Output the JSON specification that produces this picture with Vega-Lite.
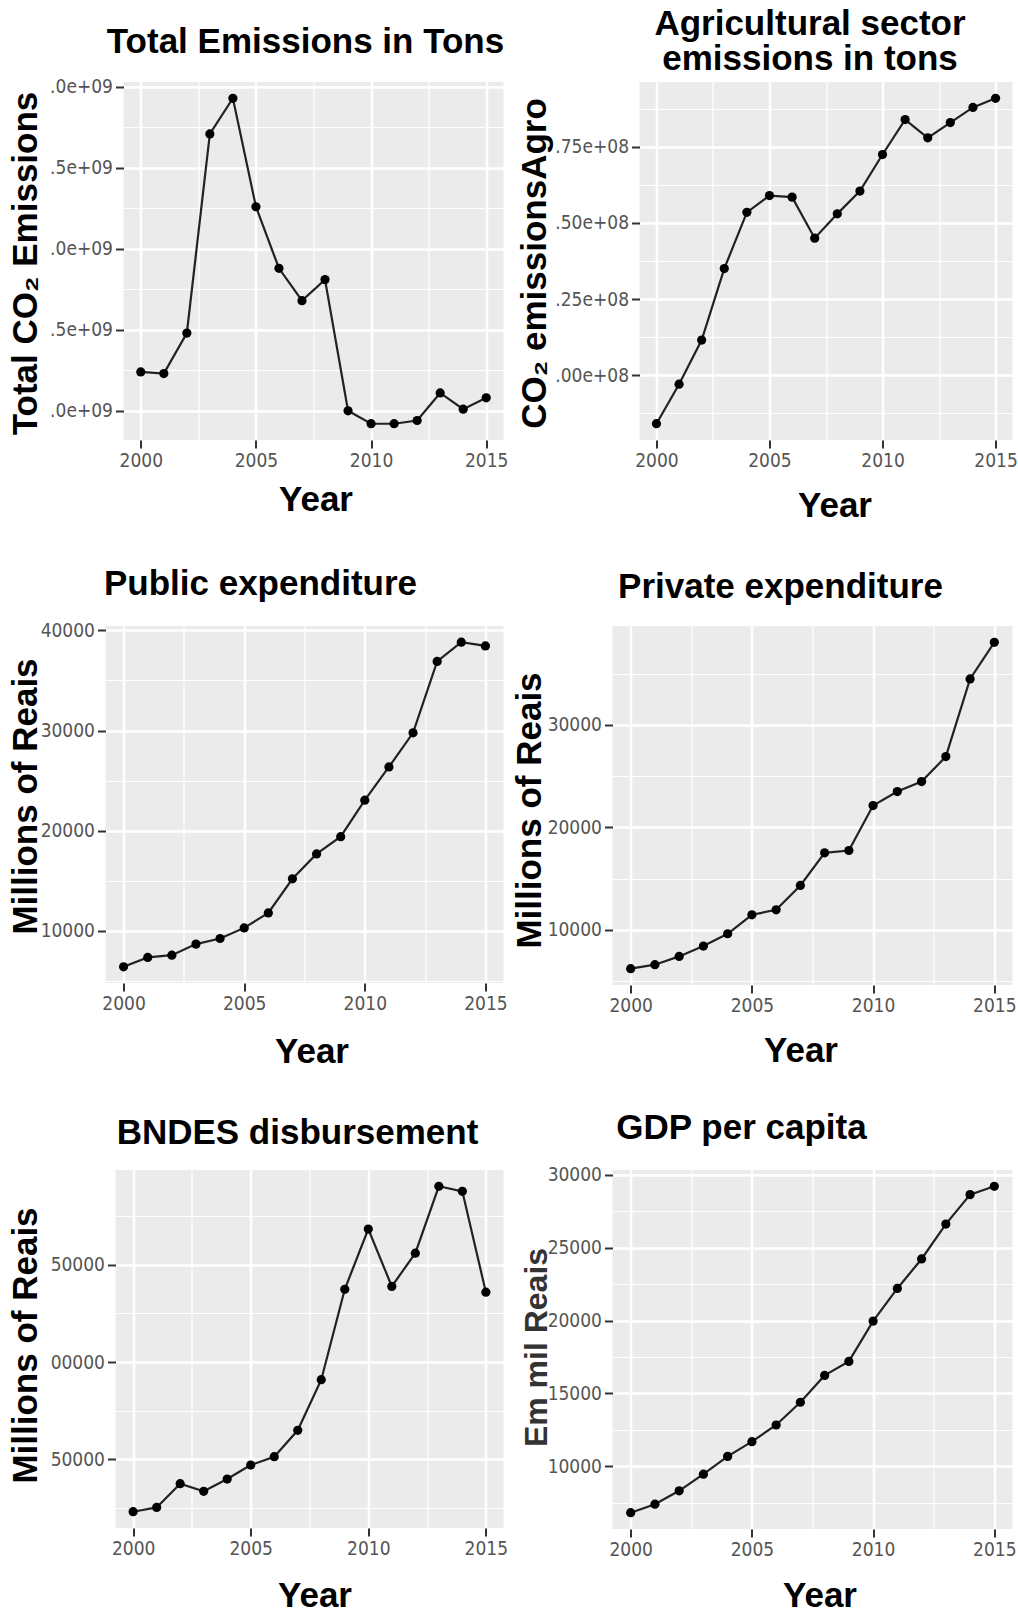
{
  "$schema": "https://vega.github.io/schema/vega-lite/v6.json",
  "autosize": {"type": "pad"},
  "padding": {"left": 7.5, "top": 7, "right": 0, "bottom": 0},
  "background": "#FFFFFF",
  "config": {
    "view": {"stroke": null},
    "axis": {
      "domain": false,
      "tickColor": "#333333",
      "tickWidth": 2,
      "tickSize": 8,
      "labelFont": "DejaVu Sans Condensed, Roboto Condensed, Noto Sans Condensed, Liberation Sans",
      "labelFontSize": 19,
      "labelColor": "#555555",
      "labelPadding": 3,
      "labelFlush": false,
      "labelOverlap": false,
      "gridColor": "#FFFFFF",
      "titleFont": "Liberation Sans",
      "titleFontWeight": "bold",
      "titleFontSize": 35,
      "titleColor": "#000000",
      "titleAlign": "center",
      "titleBaseline": "middle"
    },
    "title": {"font": "Liberation Sans", "fontWeight": "bold", "fontSize": 35, "color": "#000000", "anchor": "middle", "frame": "group", "baseline": "alphabetic"},
    "line": {"color": "#222222", "strokeWidth": 2.2},
    "point": {"color": "#000000", "filled": true, "size": 85, "opacity": 1}
  },
  "spacing": 44,
  "vconcat": [
    {
      "bounds": "flush",
      "spacing": 0,
      "hconcat": [
        {"width": 18, "height": 10, "data": {"values": []}, "mark": "point"},
        {
          "bounds": "flush",
          "spacing": 136,
          "hconcat": [
            {
              "width": 380, "height": 358,
              "view": {"fill": "#EBEBEB", "stroke": null},
              "title": {"text": "Total Emissions in Tons", "dx": -8, "offset": 18},
              "data": {"values": [
                {"year": 2000, "value": 2240000000}, {"year": 2001, "value": 2230000000}, {"year": 2002, "value": 2480000000},
                {"year": 2003, "value": 3710000000}, {"year": 2004, "value": 3930000000}, {"year": 2005, "value": 3260000000},
                {"year": 2006, "value": 2880000000}, {"year": 2007, "value": 2680000000}, {"year": 2008, "value": 2810000000},
                {"year": 2009, "value": 2000000000}, {"year": 2010, "value": 1920000000}, {"year": 2011, "value": 1920000000},
                {"year": 2012, "value": 1940000000}, {"year": 2013, "value": 2110000000}, {"year": 2014, "value": 2010000000},
                {"year": 2015, "value": 2080000000}
              ]},
              "encoding": {
                "x": {"field": "year", "type": "quantitative", "scale": {"domain": [1999.25, 2015.75], "nice": false, "zero": false},
                  "axis": {"title": "Year", "titleX": 192, "titleY": 59,
                    "values": [2000, 2002.5, 2005, 2007.5, 2010, 2012.5, 2015],
                    "labelExpr": "datum.value % 5 == 0 ? format(datum.value, 'd') : ''",
                    "tickOpacity": {"condition": {"test": "datum.value % 5 == 0", "value": 1}, "value": 0},
                    "gridWidth": {"condition": {"test": "datum.value % 5 == 0", "value": 2.5}, "value": 1.2}}},
                "y": {"field": "value", "type": "quantitative", "scale": {"domain": [1819500000, 4030500000], "nice": false, "zero": false},
                  "axis": {"title": "Total CO₂ Emissions", "titleX": -98, "titleY": 181,
                    "values": [2000000000, 2250000000, 2500000000, 2750000000, 3000000000, 3250000000, 3500000000, 3750000000, 4000000000],
                    "labelExpr": "datum.value % 500000000 == 0 ? '.' + (datum.value % 1000000000 == 0 ? '0' : '5') + 'e+09' : ''",
                    "tickOpacity": {"condition": {"test": "datum.value % 500000000 == 0", "value": 1}, "value": 0},
                    "gridWidth": {"condition": {"test": "datum.value % 500000000 == 0", "value": 2.5}, "value": 1.2}}}
              },
              "layer": [{"mark": "line"}, {"mark": "point"}]
            },
            {
              "width": 373, "height": 358,
              "view": {"fill": "#EBEBEB", "stroke": null},
              "title": {"text": ["Agricultural sector", "emissions in tons"], "dx": -16, "offset": 5, "lineHeight": 35},
              "data": {"values": [
                {"year": 2000, "value": 384000000}, {"year": 2001, "value": 397000000}, {"year": 2002, "value": 411500000},
                {"year": 2003, "value": 435000000}, {"year": 2004, "value": 453500000}, {"year": 2005, "value": 459000000},
                {"year": 2006, "value": 458500000}, {"year": 2007, "value": 445000000}, {"year": 2008, "value": 453000000},
                {"year": 2009, "value": 460500000}, {"year": 2010, "value": 472500000}, {"year": 2011, "value": 484000000},
                {"year": 2012, "value": 478000000}, {"year": 2013, "value": 483000000}, {"year": 2014, "value": 488000000},
                {"year": 2015, "value": 491000000}
              ]},
              "encoding": {
                "x": {"field": "year", "type": "quantitative", "scale": {"domain": [1999.25, 2015.75], "nice": false, "zero": false},
                  "axis": {"title": "Year", "titleX": 195, "titleY": 65,
                    "values": [2000, 2002.5, 2005, 2007.5, 2010, 2012.5, 2015],
                    "labelExpr": "datum.value % 5 == 0 ? format(datum.value, 'd') : ''",
                    "tickOpacity": {"condition": {"test": "datum.value % 5 == 0", "value": 1}, "value": 0},
                    "gridWidth": {"condition": {"test": "datum.value % 5 == 0", "value": 2.5}, "value": 1.2}}},
                "y": {"field": "value", "type": "quantitative", "scale": {"domain": [378650000, 496350000], "nice": false, "zero": false},
                  "axis": {"title": "CO₂ emissionsAgro", "titleX": -105, "titleY": 181,
                    "values": [387500000, 400000000, 412500000, 425000000, 437500000, 450000000, 462500000, 475000000, 487500000],
                    "labelExpr": "datum.value % 25000000 == 0 ? '.' + format((datum.value % 100000000) / 1000000, '02d') + 'e+08' : ''",
                    "tickOpacity": {"condition": {"test": "datum.value % 25000000 == 0", "value": 1}, "value": 0},
                    "gridWidth": {"condition": {"test": "datum.value % 25000000 == 0", "value": 2.5}, "value": 1.2}}}
              },
              "layer": [{"mark": "line"}, {"mark": "point"}]
            }
          ]
        }
      ]
    },
    {
      "spacing": 41,
      "vconcat": [
        {
          "bounds": "flush",
          "spacing": 109,
          "hconcat": [
            {
              "width": 398, "height": 357,
              "view": {"fill": "#EBEBEB", "stroke": null},
              "title": {"text": "Public expenditure", "dx": -44, "offset": 19},
              "data": {"values": [
                {"year": 2000, "value": 6420}, {"year": 2001, "value": 7350}, {"year": 2002, "value": 7580},
                {"year": 2003, "value": 8680}, {"year": 2004, "value": 9240}, {"year": 2005, "value": 10300},
                {"year": 2006, "value": 11790}, {"year": 2007, "value": 15200}, {"year": 2008, "value": 17680},
                {"year": 2009, "value": 19400}, {"year": 2010, "value": 23050}, {"year": 2011, "value": 26360},
                {"year": 2012, "value": 29770}, {"year": 2013, "value": 36890}, {"year": 2014, "value": 38810},
                {"year": 2015, "value": 38440}
              ]},
              "encoding": {
                "x": {"field": "year", "type": "quantitative", "scale": {"domain": [1999.25, 2015.75], "nice": false, "zero": false},
                  "axis": {"title": "Year", "titleX": 206, "titleY": 68,
                    "values": [2000, 2002.5, 2005, 2007.5, 2010, 2012.5, 2015],
                    "labelExpr": "datum.value % 5 == 0 ? format(datum.value, 'd') : ''",
                    "tickOpacity": {"condition": {"test": "datum.value % 5 == 0", "value": 1}, "value": 0},
                    "gridWidth": {"condition": {"test": "datum.value % 5 == 0", "value": 2.5}, "value": 1.2}}},
                "y": {"field": "value", "type": "quantitative", "scale": {"domain": [4800, 40430], "nice": false, "zero": false},
                  "axis": {"title": "Millions of Reais", "titleX": -80, "titleY": 170,
                    "values": [5000, 10000, 15000, 20000, 25000, 30000, 35000, 40000],
                    "labelExpr": "datum.value % 10000 == 0 ? format(datum.value, 'd') : ''",
                    "tickOpacity": {"condition": {"test": "datum.value % 10000 == 0", "value": 1}, "value": 0},
                    "gridWidth": {"condition": {"test": "datum.value % 10000 == 0", "value": 2.5}, "value": 1.2}}}
              },
              "layer": [{"mark": "line"}, {"mark": "point"}]
            },
            {
              "width": 400, "height": 359,
              "view": {"fill": "#EBEBEB", "stroke": null},
              "title": {"text": "Private expenditure", "dx": -32, "offset": 21},
              "data": {"values": [
                {"year": 2000, "value": 6200}, {"year": 2001, "value": 6590}, {"year": 2002, "value": 7400},
                {"year": 2003, "value": 8410}, {"year": 2004, "value": 9610}, {"year": 2005, "value": 11460},
                {"year": 2006, "value": 11950}, {"year": 2007, "value": 14330}, {"year": 2008, "value": 17510},
                {"year": 2009, "value": 17740}, {"year": 2010, "value": 22130}, {"year": 2011, "value": 23500},
                {"year": 2012, "value": 24470}, {"year": 2013, "value": 26910}, {"year": 2014, "value": 34490},
                {"year": 2015, "value": 38070}
              ]},
              "encoding": {
                "x": {"field": "year", "type": "quantitative", "scale": {"domain": [1999.25, 2015.75], "nice": false, "zero": false},
                  "axis": {"title": "Year", "titleX": 188, "titleY": 65,
                    "values": [2000, 2002.5, 2005, 2007.5, 2010, 2012.5, 2015],
                    "labelExpr": "datum.value % 5 == 0 ? format(datum.value, 'd') : ''",
                    "tickOpacity": {"condition": {"test": "datum.value % 5 == 0", "value": 1}, "value": 0},
                    "gridWidth": {"condition": {"test": "datum.value % 5 == 0", "value": 2.5}, "value": 1.2}}},
                "y": {"field": "value", "type": "quantitative", "scale": {"domain": [4606, 39664], "nice": false, "zero": false},
                  "axis": {"title": "Millions of Reais", "titleX": -83, "titleY": 184,
                    "values": [5000, 10000, 15000, 20000, 25000, 30000, 35000],
                    "labelExpr": "datum.value % 10000 == 0 ? format(datum.value, 'd') : ''",
                    "tickOpacity": {"condition": {"test": "datum.value % 10000 == 0", "value": 1}, "value": 0},
                    "gridWidth": {"condition": {"test": "datum.value % 10000 == 0", "value": 2.5}, "value": 1.2}}}
              },
              "layer": [{"mark": "line"}, {"mark": "point"}]
            }
          ]
        },
        {
          "bounds": "flush",
          "spacing": 0,
          "hconcat": [
            {"width": 10, "height": 10, "data": {"values": []}, "mark": "point"},
            {
              "bounds": "flush",
              "spacing": 109,
              "hconcat": [
                {
                  "width": 388, "height": 358,
                  "view": {"fill": "#EBEBEB", "stroke": null},
                  "title": {"text": "BNDES disbursement", "dx": -12, "offset": 19},
                  "data": {"values": [
                    {"year": 2000, "value": 23000}, {"year": 2001, "value": 25200}, {"year": 2002, "value": 37400},
                    {"year": 2003, "value": 33500}, {"year": 2004, "value": 39800}, {"year": 2005, "value": 47000},
                    {"year": 2006, "value": 51300}, {"year": 2007, "value": 64900}, {"year": 2008, "value": 90900},
                    {"year": 2009, "value": 137400}, {"year": 2010, "value": 168400}, {"year": 2011, "value": 138900},
                    {"year": 2012, "value": 156000}, {"year": 2013, "value": 190400}, {"year": 2014, "value": 187800},
                    {"year": 2015, "value": 135900}
                  ]},
                  "encoding": {
                    "x": {"field": "year", "type": "quantitative", "scale": {"domain": [1999.25, 2015.75], "nice": false, "zero": false},
                      "axis": {"title": "Year", "titleX": 199, "titleY": 67,
                        "values": [2000, 2002.5, 2005, 2007.5, 2010, 2012.5, 2015],
                        "labelExpr": "datum.value % 5 == 0 ? format(datum.value, 'd') : ''",
                        "tickOpacity": {"condition": {"test": "datum.value % 5 == 0", "value": 1}, "value": 0},
                        "gridWidth": {"condition": {"test": "datum.value % 5 == 0", "value": 2.5}, "value": 1.2}}},
                    "y": {"field": "value", "type": "quantitative", "scale": {"domain": [14630, 198770], "nice": false, "zero": false},
                      "axis": {"title": "Millions of Reais", "titleX": -90, "titleY": 175,
                        "values": [25000, 50000, 75000, 100000, 125000, 150000, 175000],
                        "labelExpr": "datum.value % 50000 == 0 ? substring(format(datum.value, 'd'), length(format(datum.value, 'd')) - 5) : ''",
                        "tickOpacity": {"condition": {"test": "datum.value % 50000 == 0", "value": 1}, "value": 0},
                        "gridWidth": {"condition": {"test": "datum.value % 50000 == 0", "value": 2.5}, "value": 1.2}}}
                  },
                  "layer": [{"mark": "line"}, {"mark": "point"}]
                },
                {
                  "width": 400, "height": 359,
                  "view": {"fill": "#EBEBEB", "stroke": null},
                  "title": {"text": "GDP per capita", "dx": -71, "offset": 20},
                  "data": {"values": [
                    {"year": 2000, "value": 6830}, {"year": 2001, "value": 7410}, {"year": 2002, "value": 8330},
                    {"year": 2003, "value": 9470}, {"year": 2004, "value": 10690}, {"year": 2005, "value": 11700},
                    {"year": 2006, "value": 12840}, {"year": 2007, "value": 14400}, {"year": 2008, "value": 16240},
                    {"year": 2009, "value": 17200}, {"year": 2010, "value": 19960}, {"year": 2011, "value": 22200},
                    {"year": 2012, "value": 24220}, {"year": 2013, "value": 26610}, {"year": 2014, "value": 28630},
                    {"year": 2015, "value": 29200}
                  ]},
                  "encoding": {
                    "x": {"field": "year", "type": "quantitative", "scale": {"domain": [1999.25, 2015.75], "nice": false, "zero": false},
                      "axis": {"title": "Year", "titleX": 207, "titleY": 66,
                        "values": [2000, 2002.5, 2005, 2007.5, 2010, 2012.5, 2015],
                        "labelExpr": "datum.value % 5 == 0 ? format(datum.value, 'd') : ''",
                        "tickOpacity": {"condition": {"test": "datum.value % 5 == 0", "value": 1}, "value": 0},
                        "gridWidth": {"condition": {"test": "datum.value % 5 == 0", "value": 2.5}, "value": 1.2}}},
                    "y": {"field": "value", "type": "quantitative", "scale": {"domain": [5712, 30318], "nice": false, "zero": false},
                      "axis": {"title": "Em mil Reais", "titleX": -76, "titleY": 177, "titleFontSize": 32, "titleColor": "#333333",
                        "values": [7500, 10000, 12500, 15000, 17500, 20000, 22500, 25000, 27500, 30000],
                        "labelExpr": "datum.value % 5000 == 0 ? format(datum.value, 'd') : ''",
                        "tickOpacity": {"condition": {"test": "datum.value % 5000 == 0", "value": 1}, "value": 0},
                        "gridWidth": {"condition": {"test": "datum.value % 5000 == 0", "value": 2.5}, "value": 1.2}}}
                  },
                  "layer": [{"mark": "line"}, {"mark": "point"}]
                }
              ]
            }
          ]
        }
      ]
    }
  ]
}
